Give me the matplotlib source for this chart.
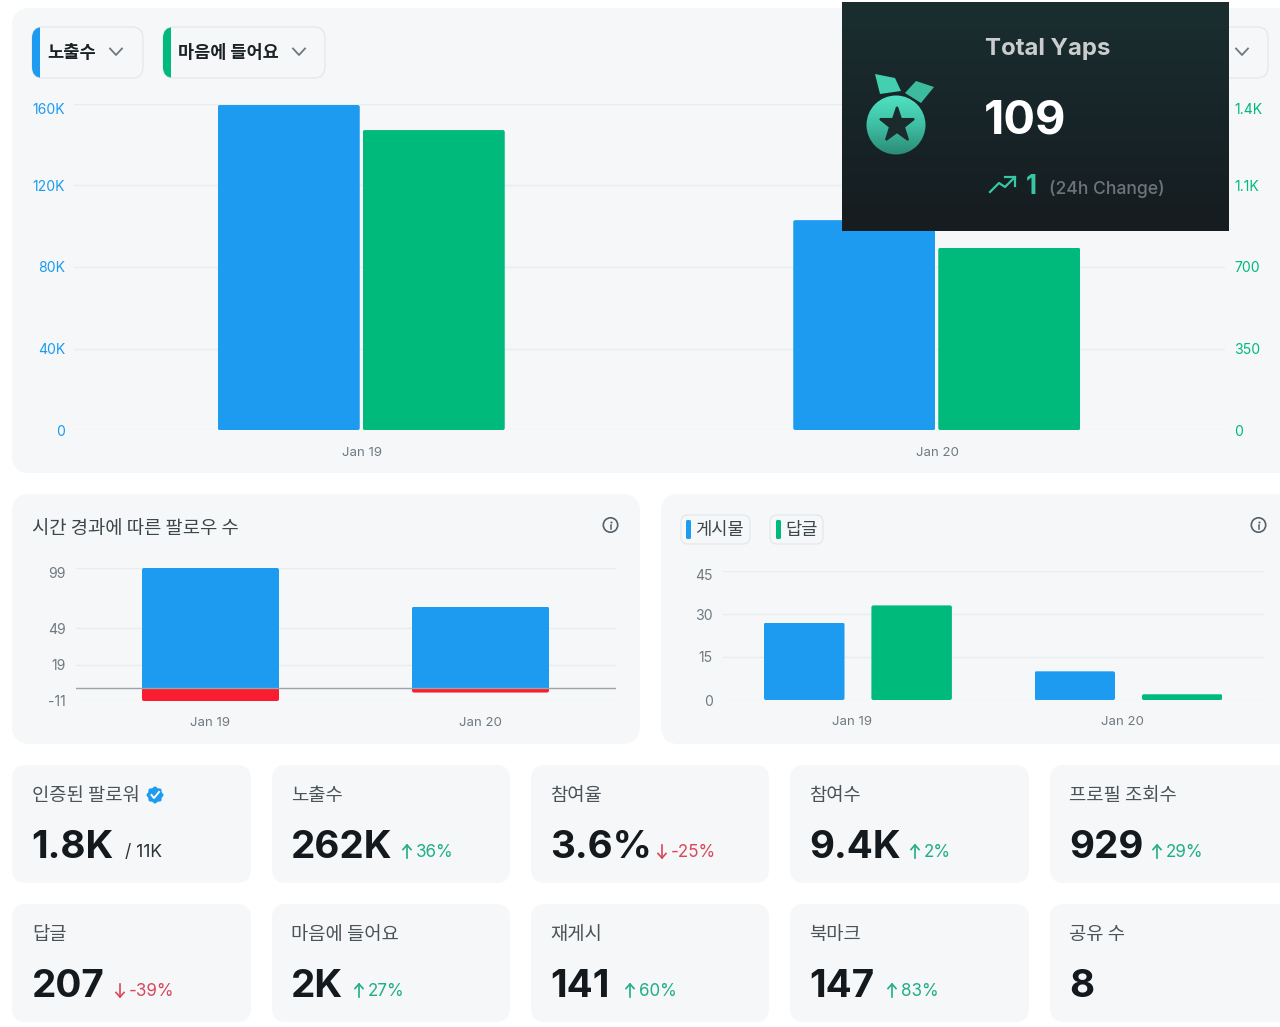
import numpy as np
import matplotlib
matplotlib.use("Agg")
import matplotlib.pyplot as plt
from matplotlib.patches import FancyBboxPatch, Rectangle, Circle, Polygon
from matplotlib.colors import LinearSegmentedColormap
from matplotlib.transforms import ScaledTranslation, IdentityTransform

# ---------- data ----------
dates = ["Jan 19", "Jan 20"]
impressions = [159500, 103000]
likes = [1288, 782]
imp_ticks = [0, 40000, 80000, 120000, 160000]
imp_labels = ["0", "40K", "80K", "120K", "160K"]
like_ticks = [0, 350, 700, 1050, 1400]
like_labels = ["0", "350", "700", "1.1K", "1.4K"]

follow_gain = [99, 67]
follow_loss = [-11, -4]
follow_ticks = [-11, 19, 49, 99]

posts = [27, 10]
replies = [33, 2]
reply_ticks = [0, 15, 30, 45]

card_titles = ["인증된 팔로워", "노출수", "참여율", "참여수", "프로필 조회수",
               "답글", "마음에 들어요", "재게시", "북마크", "공유 수"]
card_values = ["1.8K", "262K", "3.6%", "9.4K", "929", "207", "2K", "141", "147", "8"]
card_deltas = [None, "36%", "-25%", "2%", "29%", "-39%", "27%", "60%", "83%", None]
card_delta_x = [None, 416, 671, 924, 1166, 129, 368, 639, 901, None]

# ---------- style ----------
W, H = 1280, 1027
BLUE, GREEN, RED = "#1d9bf0", "#00ba7c", "#f91d2f"
PANEL = "#f5f7f8"
GRID = "#e9edef"
TICK = "#6f7a80"
FONT = ["Inter", "Noto Sans CJK KR", "DejaVu Sans"]
KR = ["Noto Sans CJK KR", "DejaVu Sans"]
plt.rcParams["font.family"] = FONT
PX = 0.72  # px -> pt at dpi 100

fig = plt.figure(figsize=(W / 100, H / 100), dpi=100, facecolor="white")


def overlay(z):
    a = fig.add_axes([0, 0, 1, 1], zorder=z)
    a.set_xlim(0, W)
    a.set_ylim(H, 0)
    a.axis("off")
    a.patch.set_alpha(0)
    return a


def px_axes(x0, x1, ytop, ybot, z=5):
    a = fig.add_axes([x0 / W, 1 - ybot / H, (x1 - x0) / W, (ybot - ytop) / H], zorder=z)
    a.patch.set_alpha(0)
    for s in a.spines.values():
        s.set_visible(False)
    a.tick_params(length=0)
    a.set_axisbelow(True)
    return a


def rbox(a, x0, y0, x1, y1, r, fc, ec="none", lw=0, z=1):
    p = FancyBboxPatch((x0 + r, y0 + r), x1 - x0 - 2 * r, y1 - y0 - 2 * r,
                       boxstyle=f"round,pad={r},rounding_size={r}",
                       fc=fc, ec=ec, lw=lw, zorder=z)
    a.add_patch(p)
    return p


def chip(a, x0, y0, x1, y1, r, color, strip):
    rbox(a, x0, y0, x1, y1, r, PANEL, "#e4e8eb", 0.9, 2)
    if strip:
        s = rbox(a, x0, y0, x1, y1, r, color, z=3)
        s.set_clip_path(Rectangle((x0 - 1, y0 - 1), strip + 1, y1 - y0 + 2, transform=a.transData))


def chevron(a, cx, cy, c="#6f787d"):
    a.plot([cx - 6, cx, cx + 6], [cy - 3.5, cy + 3, cy - 3.5], color=c, lw=1.3, zorder=6)


def info(a, cx, cy):
    a.add_patch(Circle((cx, cy), 7.2, fc="none", ec="#55606a", lw=1.2, zorder=6))
    a.plot([cx, cx], [cy - 0.5, cy + 3.5], color="#55606a", lw=1.1, zorder=6)
    a.plot([cx], [cy - 3], "o", ms=1.5, mew=0, color="#55606a", zorder=6)


def arrow(a, x, y, up, c):
    ys, ye = (y + 7, y - 6) if up else (y - 6, y + 7)
    d = -1 if up else 1
    a.plot([x, x], [ys, ye], color=c, lw=1.2, zorder=6)
    a.plot([x - 4, x, x + 4], [ye - d * 4.5, ye, ye - d * 4.5], color=c, lw=1.2, zorder=6)


def nudge_top_label(a, up_px=1.5):
    lab = a.get_yticklabels()[-1]
    lab.set_verticalalignment("top")
    lab.set_transform(lab.get_transform() + ScaledTranslation(0, up_px / 100, fig.dpi_scale_trans))


def round_bars(a, container, r=2.0, ext_bottom=0, ext_top=0):
    """Round the visible corners of bars by clipping them to a rounded box."""
    for rect in container:
        (x0, y0), (x1, y1) = a.transData.transform(
            [(rect.get_x(), rect.get_y()), (rect.get_x() + rect.get_width(), rect.get_y() + rect.get_height())])
        lo, hi = min(y0, y1) - ext_bottom, max(y0, y1) + ext_top
        clip = FancyBboxPatch((x0 + r, lo + r), x1 - x0 - 2 * r, hi - lo - 2 * r,
                              boxstyle=f"round,pad={r},rounding_size={r}",
                              transform=IdentityTransform())
        rect.set_clip_path(clip)


bg = overlay(0)
fg = overlay(10)

# ---------- panels ----------
rbox(bg, 12, 8, 1300, 473, 18, PANEL)
rbox(bg, 12, 494, 640, 744, 18, PANEL)
rbox(bg, 661, 494, 1300, 744, 18, PANEL)
card_x = [(12, 251), (272, 510), (531, 769), (790, 1029), (1050, 1300)]
card_y = [(765, 883), (904, 1022)]

# dropdowns
chip(bg, 32, 27, 143, 78, 11, BLUE, 8)
chip(bg, 163, 27, 325, 78, 11, GREEN, 8)
rbox(bg, 1190, 27, 1268, 78, 11, PANEL, "#e4e8eb", 0.9, 2)
bg.text(47.5, 53, "노출수", family=KR, fontsize=17.6 * PX, fontweight="bold", color="#1b2226", va="center", zorder=6)
bg.text(178, 53, "마음에 들어요", family=KR, fontsize=17.5 * PX, fontweight="bold", color="#1b2226", va="center", zorder=6)
chevron(bg, 116, 52)
chevron(bg, 299, 52)
chevron(bg, 1242, 52)

# ---------- top chart ----------
ax = px_axes(74, 1225, 104, 430)
x = np.arange(len(dates))
w = 142 / 575.5
off = 73 / 575.5
b1 = ax.bar(x - off, impressions, w, color=BLUE)
ax.set_xlim(-0.5, 1.5)
ax.set_ylim(0, 160000)
ax.set_yticks(imp_ticks, imp_labels, color=BLUE, fontsize=14 * PX)
ax.tick_params(axis="y", pad=9 * 0.72)
nudge_top_label(ax)
ax.grid(axis="y", color=GRID, lw=1)
ax.set_xticks(x, dates, color=TICK, fontsize=13.2 * PX)
ax.tick_params(axis="x", pad=12)
ax2 = ax.twinx()
ax2.patch.set_alpha(0)
for s in ax2.spines.values():
    s.set_visible(False)
b2 = ax2.bar(x + off - 1 / 575.5, likes, w, color=GREEN)
ax2.set_ylim(0, 1400)
ax2.set_yticks(like_ticks, like_labels, color=GREEN, fontsize=14 * PX)
ax2.tick_params(axis="y", length=0, pad=9 * 0.72)
nudge_top_label(ax2)

# ---------- followers chart ----------
bg.text(32, 528.5, "시간 경과에 따른 팔로우 수", family=KR, fontsize=18.8 * PX, color="#3d464b", va="center", zorder=6)
info(bg, 610.5, 525)
ax3 = px_axes(75.5, 615.5, 568, 701)
b3 = ax3.bar(x, follow_gain, 137 / 270, color=BLUE)
b4 = ax3.bar(x, follow_loss, 137 / 270, color=RED)
ax3.axhline(0, color="#9aa4a9", lw=1, zorder=4)
ax3.set_xlim(-0.5, 1.5)
ax3.set_ylim(-11, 99)
ax3.set_yticks(follow_ticks, [str(t) for t in follow_ticks], color=TICK, fontsize=14 * PX)
ax3.tick_params(axis="y", pad=10 * 0.72)
nudge_top_label(ax3)
ax3.grid(axis="y", color=GRID, lw=1)
ax3.set_xticks(x, dates, color=TICK, fontsize=13.2 * PX)
ax3.tick_params(axis="x", pad=11.5)

# ---------- posts / replies chart ----------
chip(bg, 681, 515, 750, 544, 7, PANEL, 0)
chip(bg, 770, 515, 823, 544, 7, PANEL, 0)
rbox(bg, 686, 520, 691, 539, 1.5, BLUE, z=4)
rbox(bg, 776, 520, 781, 539, 1.5, GREEN, z=4)
bg.text(695.5, 530.5, "게시물", family=KR, fontsize=17.6 * PX, color="#3d464b", va="center", zorder=6)
bg.text(785.5, 530.5, "답글", family=KR, fontsize=17.6 * PX, color="#3d464b", va="center", zorder=6)
info(bg, 1258.5, 525)
ax4 = px_axes(722.7, 1263.7, 571, 700)
b5 = ax4.bar(x - 53.7 / 270.5, posts, 80.5 / 270.5, color=BLUE)
b6 = ax4.bar(x + 53.7 / 270.5, replies, 80.5 / 270.5, color=GREEN)
ax4.set_xlim(-0.5, 1.5)
ax4.set_ylim(0, 45)
ax4.set_yticks(reply_ticks, [str(t) for t in reply_ticks], color=TICK, fontsize=14 * PX)
ax4.tick_params(axis="y", pad=10 * 0.72)
nudge_top_label(ax4)
ax4.grid(axis="y", color=GRID, lw=1)
ax4.set_xticks(x - 5.8 / 270.5, dates, color=TICK, fontsize=13.2 * PX)
ax4.tick_params(axis="x", pad=11.5)

# ---------- cards ----------
UP, DOWN = "#1fae85", "#d9475a"
for i, (title, value, delta, dx) in enumerate(zip(card_titles, card_values, card_deltas, card_delta_x)):
    cx0, cx1 = card_x[i % 5]
    cy0, cy1 = card_y[i // 5]
    tx = cx0 + (20 if i % 5 == 0 else 19.3)
    rbox(bg, cx0, cy0, cx1, cy1, 14, PANEL)
    bg.text(tx, cy0 + 30.5, title, family=KR, fontsize=18.8 * PX, color="#4a5358", va="center", zorder=6)
    bg.text(tx - 0.5, cy0 + 93, value, fontsize=38.6 * PX, fontweight="bold", color="#14191d",
            va="baseline", zorder=6)
    if delta:
        neg = delta.startswith("-")
        col = DOWN if neg else UP
        bg.text(dx, cy0 + 92, delta, fontsize=17 * PX, color=col, va="baseline", zorder=6)
        arrow(bg, dx - 9, cy0 + 86, not neg, col)
bg.text(125, 857, "/ 11K", fontsize=17.5 * PX, color="#2c3438", va="baseline", zorder=6)
# verified badge
th = np.linspace(0, 2 * np.pi, 145)
rad = 7.9 + 0.6 * np.cos(8 * th)
bg.add_patch(Polygon(np.c_[155 + rad * np.cos(th), 795 + rad * np.sin(th)], fc=BLUE, ec="none", zorder=6))
bg.plot([151.5, 154, 159], [795, 798, 792], color="white", lw=1.4, zorder=7)

# ---------- dark overlay card ----------
grad = np.linspace(0, 1, 256).reshape(-1, 1)
cm = LinearSegmentedColormap.from_list("d", ["#1a2e30", "#161c20"])
fg.imshow(grad, extent=(842, 1229, 231, 2), cmap=cm, aspect="auto", zorder=1)
fg.set_xlim(0, W)
fg.set_ylim(H, 0)
fg.add_patch(Polygon([(875, 74), (895, 78), (901, 91), (880, 94)], fc="#43cfb0", zorder=3))
fg.add_patch(Polygon([(916, 81), (934, 87), (921, 103), (905, 93)], fc="#3dbb9f", zorder=3))
cm2 = LinearSegmentedColormap.from_list("m", ["#4fe3c3", "#3fbfa2", "#2a8a75"])
im = fg.imshow(grad, extent=(866, 926, 155, 95), cmap=cm2, aspect="auto", zorder=3)
im.set_clip_path(Circle((896, 125), 29.5, transform=fg.transData))
fg.set_xlim(0, W)
fg.set_ylim(H, 0)
fg.plot([896.5], [125], marker="*", ms=26, color="#1a2a2d", mec="#1a2a2d", mew=1.5, zorder=4)
fg.text(985, 48.5, "Total Yaps", fontsize=24 * PX, fontweight="bold", color="#c9cdcd", va="center", zorder=5)
fg.text(984, 116, "109", fontsize=47 * PX, fontweight="bold", color="white", va="center_baseline", zorder=5)
TEAL = "#36c7a4"
fg.plot([990, 999, 1005, 1015], [192, 183, 187, 177], color=TEAL, lw=1.6, zorder=5)
fg.plot([1005, 1015, 1015], [177, 177, 186], color=TEAL, lw=1.6, zorder=5)
fg.text(1026, 184, "1", fontsize=26 * PX, fontweight="bold", color=TEAL, va="center_baseline", zorder=5)
fg.text(1049, 189, "(24h Change)", fontsize=17.5 * PX, fontweight="medium", color="#6d7577", va="center", zorder=5)

# ---------- rounded bar corners ----------
round_bars(ax, b1)
round_bars(ax2, b2)
round_bars(ax3, b3, ext_bottom=4)
round_bars(ax3, b4, ext_top=4)
round_bars(ax4, b5)
round_bars(ax4, b6)

fig.savefig("out.png", dpi=100, facecolor="white")
